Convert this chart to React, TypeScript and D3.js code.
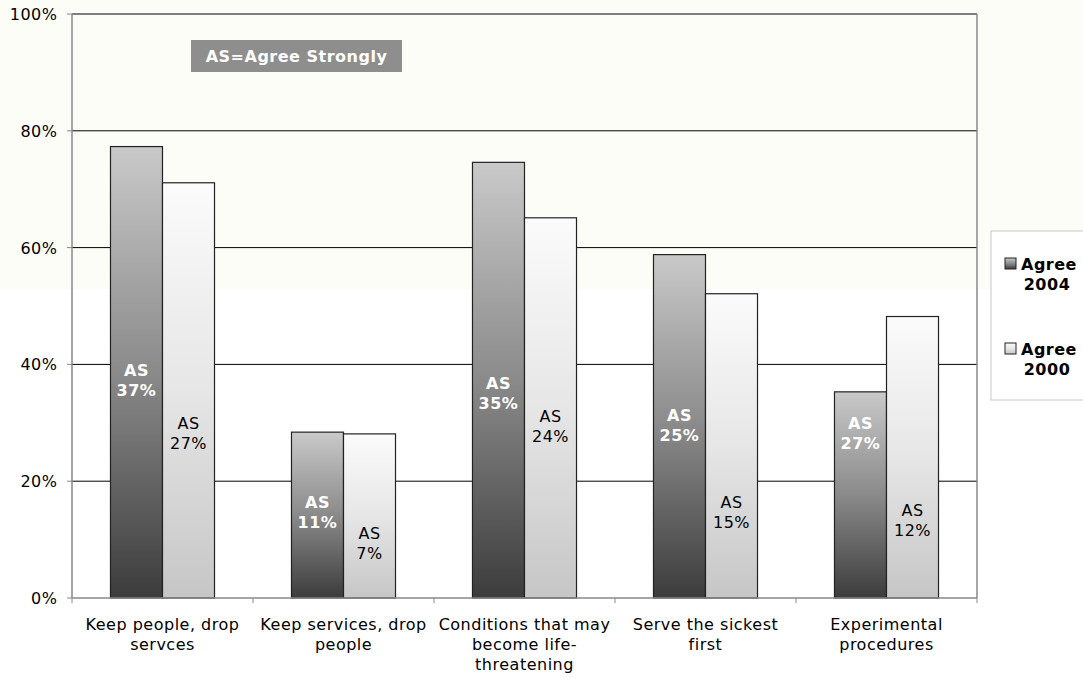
import React from "react";
import * as d3 from "d3";

const categories: string[][] = [
  ["Keep people, drop", "servces"],
  ["Keep services, drop", "people"],
  ["Conditions that may", "become life-", "threatening"],
  ["Serve the sickest", "first"],
  ["Experimental", "procedures"],
];
const seriesNames = ["Agree 2004", "Agree 2000"];
const agree2004 = [77.3, 28.4, 74.6, 58.8, 35.3];
const agree2000 = [71.1, 28.1, 65.1, 52.1, 48.2];
const as2004 = [37, 11, 35, 25, 27];
const as2000 = [27, 7, 24, 15, 12];
const asLabelAt2004 = [37.4, 14.7, 35.1, 29.6, 28.3];
const asLabelAt2000 = [28.3, 9.4, 29.5, 14.7, 13.4];
const yTicks = [0, 20, 40, 60, 80, 100];

const W = 1083;
const H = 679;
const FONT = "'DejaVu Sans', Verdana, sans-serif";

export default function App() {
  const left = 72, right = 977, top = 14, bottom = 598;
  const y = d3.scaleLinear().domain([0, 100]).range([bottom, top]);
  const x = d3.scaleBand<number>().domain(d3.range(categories.length)).range([left, right]).padding(0);
  const xs = d3.scaleBand<number>().domain([0, 1]).range([0, x.bandwidth()]).paddingInner(0).paddingOuter(0.74);
  const values = [agree2004, agree2000];
  const asVals = [as2004, as2000];
  const asPos = [asLabelAt2004, asLabelAt2000];
  const fills = ["url(#g2004)", "url(#g2000)"];
  const boundaries = d3.range(categories.length + 1).map((i) => left + i * x.step());

  return (
    <div style={{ position: "absolute", left: 0, top: 0 }}>
      <svg width={W} height={H} style={{ display: "block", fontFamily: FONT, letterSpacing: "0.5px" }}>
        <defs>
          <linearGradient id="g2004" x1="0" y1="0" x2="0" y2="1">
            <stop offset="0" stopColor="#c9c9c9" />
            <stop offset="0.5" stopColor="#8a8a8a" />
            <stop offset="1" stopColor="#3c3c3c" />
          </linearGradient>
          <linearGradient id="g2000" x1="0" y1="0" x2="0" y2="1">
            <stop offset="0" stopColor="#fbfbfb" />
            <stop offset="0.5" stopColor="#e6e6e6" />
            <stop offset="1" stopColor="#c6c6c6" />
          </linearGradient>
        </defs>
        <rect x={0} y={0} width={W} height={H} fill="#ffffff" />
        <rect x={0} y={0} width={W} height={289} fill="#fdfdf7" />

        {/* gridlines */}
        {yTicks.filter((t) => t > 0).map((t) => (
          <line key={t} x1={left} x2={right} y1={y(t)} y2={y(t)} stroke="#000" strokeWidth={1} />
        ))}
        {/* y ticks & labels */}
        {yTicks.map((t) => (
          <g key={"yt" + t}>
            <line x1={left - 5} x2={left} y1={y(t)} y2={y(t)} stroke="#888" />
            <text x={57.5} y={y(t) + 6} textAnchor="end" fontSize={16} fill="#000">
              {t}%
            </text>
          </g>
        ))}

        {/* bars */}
        {categories.map((_, i) =>
          values.map((vals, s) => {
            const bx = (x(i) as number) + (xs(s) as number);
            const bw = xs.bandwidth();
            return (
              <rect
                key={`b${i}-${s}`}
                x={bx}
                y={y(vals[i])}
                width={bw}
                height={y(0) - y(vals[i])}
                fill={fills[s]}
                stroke="#222"
                strokeWidth={1.2}
              />
            );
          })
        )}

        {/* axes */}
        <line x1={left} x2={left} y1={top} y2={bottom} stroke="#888" strokeWidth={1.5} />
        <line x1={right} x2={right} y1={top} y2={bottom} stroke="#888" strokeWidth={1.5} />
        <line x1={left} x2={right} y1={bottom} y2={bottom} stroke="#888" strokeWidth={1.5} />
        {boundaries.map((bx, i) => (
          <line key={"xt" + i} x1={bx} x2={bx} y1={bottom} y2={bottom + 5} stroke="#888" />
        ))}

        {/* AS labels */}
        {categories.map((_, i) =>
          asVals.map((av, s) => {
            const cx = (x(i) as number) + (xs(s) as number) + xs.bandwidth() / 2;
            const cy = y(asPos[s][i]);
            return (
              <text
                key={`l${i}-${s}`}
                x={cx}
                textAnchor="middle"
                fontSize={16}
                fontWeight={s === 0 ? "bold" : "normal"}
                fill={s === 0 ? "#fff" : "#000"}
              >
                <tspan x={cx} y={cy - 4}>AS</tspan>
                <tspan x={cx} y={cy + 16}>{av[i]}%</tspan>
              </text>
            );
          })
        )}

        {/* category labels */}
        {categories.map((lines, i) => {
          const cx = (x(i) as number) + x.bandwidth() / 2;
          return (
            <text key={"c" + i} textAnchor="middle" fontSize={16} fill="#000">
              {lines.map((ln, j) => (
                <tspan key={j} x={cx} y={630 + j * 20}>
                  {ln}
                </tspan>
              ))}
            </text>
          );
        })}

        {/* AS=Agree Strongly box */}
        <rect x={191} y={40} width={211} height={32} fill="#8e8e8e" />
        <text x={296.5} y={62} textAnchor="middle" fontSize={16} fontWeight="bold" fill="#fff">
          AS=Agree Strongly
        </text>

        {/* legend */}
        <rect x={991} y={231} width={100} height={169} fill="#fff" stroke="#c8c8c8" />
        {seriesNames.map((name, s) => {
          const ly = 258 + s * 85;
          const [w1, w2] = name.split(" ");
          return (
            <g key={"lg" + s}>
              <rect x={1005} y={ly} width={11} height={11} fill={fills[s]} stroke="#222" />
              <text textAnchor="middle" fontSize={16} fontWeight="bold" fill="#000">
                <tspan x={1049} y={ly + 12}>{w1}</tspan>
                <tspan x={1047} y={ly + 32}>{w2}</tspan>
              </text>
            </g>
          );
        })}
      </svg>
    </div>
  );
}
